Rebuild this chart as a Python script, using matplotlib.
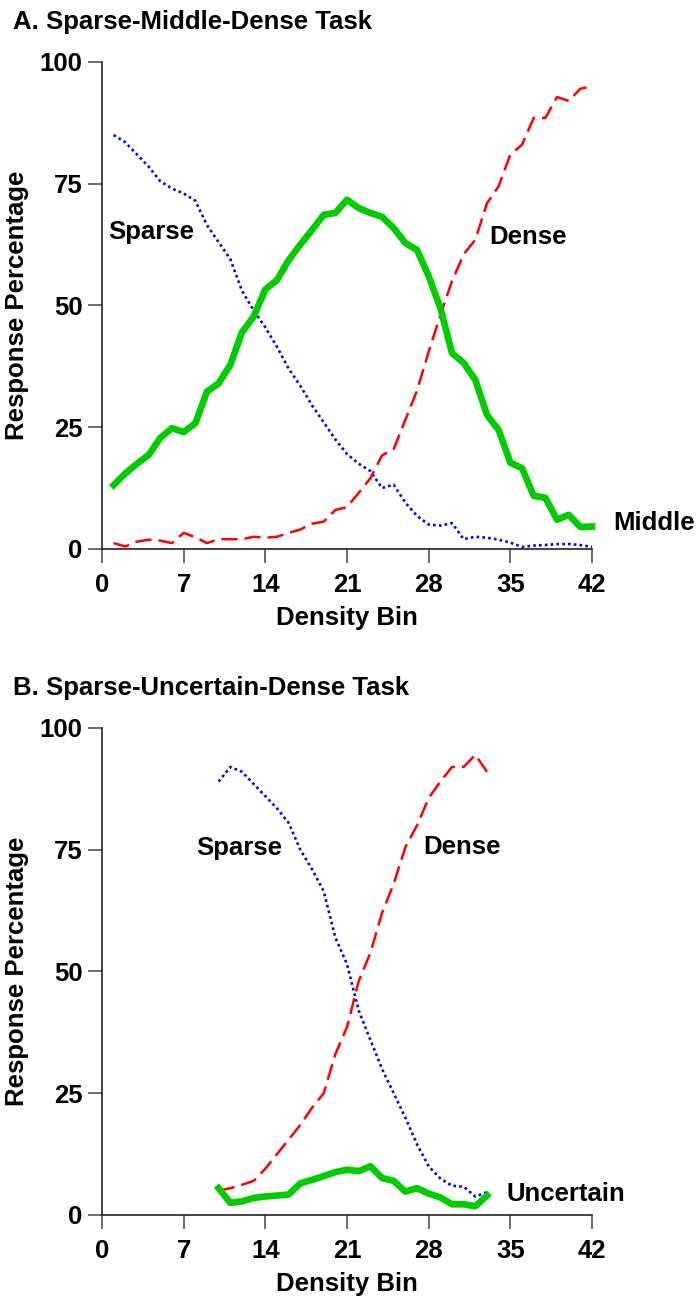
import matplotlib
matplotlib.use('Agg')
import matplotlib.pyplot as plt

# density bins
bins_a = list(range(1, 43))
bins_b = list(range(10, 34))

# panel A: sparse-middle-dense task (response %)
sparse_a = [85, 83.5, 81, 78.5, 75.5, 74, 73, 71.5, 66.5, 63, 59.5, 53, 49, 45.5,
            41.5, 37, 33.5, 29.5, 26, 22.5, 19.5, 17.5, 16, 12.5, 13.2, 9.5, 6.8,
            5, 4.8, 5.3, 2, 2.5, 2.3, 1.9, 1.3, 0.4, 0.7, 0.8, 1, 1, 0.8, 0.4]
middle_a = [13.1, 15.5, 17.5, 19.3, 22.8, 24.8, 24, 25.8, 32.3, 34, 37.8, 44.5,
            47.7, 53.3, 55.2, 59.3, 62.5, 65.5, 68.6, 69, 71.7, 70, 69, 68.2, 65.9,
            62.8, 61.4, 56, 49.5, 40.2, 38.2, 34.7, 27.5, 24.4, 17.7, 16.6, 10.9,
            10.5, 6, 7, 4.5, 4.6]
dense_a = [1.2, 0.5, 1.5, 1.9, 1.7, 1.2, 3.3, 2.4, 1.2, 2, 2, 2, 2.5, 2.3, 2.5,
           3.3, 4, 5.2, 5.6, 8, 8.6, 11.5, 14.5, 19.2, 20.5, 26.5, 32.5, 40.5, 48,
           55, 60.5, 63.5, 71, 74.5, 81, 83, 88.5, 88.5, 92.8, 92, 94.5, 95]

# panel B: sparse-uncertain-dense task (response %)
sparse_b = [89, 92, 91, 88.5, 86, 83.5, 80.5, 75, 71, 66.5, 57, 51.5, 42, 36, 30,
            25, 20, 14.5, 10, 7.5, 6, 5.8, 3.8, 4.7]
uncertain_b = [5.5, 2.5, 2.8, 3.5, 3.8, 4, 4.2, 6.5, 7.2, 8, 8.8, 9.3, 9, 10, 7.6,
               7, 4.8, 5.5, 4.4, 3.6, 2.2, 2.2, 1.8, 4]
dense_b = [5, 5.5, 6.2, 7, 9.5, 12.5, 15.5, 18.5, 22, 25, 33, 38.6, 48, 53.8, 62,
           68, 75.5, 80, 85.6, 89, 92, 92, 94.5, 91]

xticks = [0, 7, 14, 21, 28, 35, 42]
yticks = [0, 25, 50, 75, 100]

plt.rcParams['font.family'] = ['Liberation Sans', 'DejaVu Sans']
plt.rcParams['font.weight'] = 'bold'
FS = 18.5

fig = plt.figure(figsize=(6.97, 13.07), dpi=100)
ax_a = fig.add_axes([0.1463, 0.580, 0.7031, 0.3726])
ax_b = fig.add_axes([0.1463, 0.0704, 0.7031, 0.3726])


def style_axes(ax):
    ax.set_xlim(0, 42)
    ax.set_ylim(0, 100)
    ax.set_xticks(xticks)
    ax.set_yticks(yticks)
    for s in ['top', 'right']:
        ax.spines[s].set_visible(False)
    for s in ['left', 'bottom']:
        ax.spines[s].set_linewidth(1.2)
        ax.spines[s].set_color('#222222')
    ax.tick_params(axis='both', direction='out', length=10, width=1.1,
                   color='#444444', labelsize=FS)
    ax.tick_params(axis='y', pad=4)
    ax.tick_params(axis='x', pad=7)
    for lab in ax.get_xticklabels() + ax.get_yticklabels():
        lab.set_fontweight('bold')
    ax.set_xlabel('Density Bin', fontsize=FS, fontweight='bold', labelpad=7)
    ax.set_ylabel('Response Percentage', fontsize=FS, fontweight='bold', labelpad=8)


dot = (0, (1, 1.2))
dash = (0, (6.5, 2.8))

# panel A
ax_a.plot(bins_a, sparse_a, color='#0000ff', lw=1.9, ls=dot, clip_on=False)
ax_a.plot(bins_a, dense_a, color='#ff0000', lw=1.8, ls=dash, clip_on=False)
ax_a.plot(bins_a, middle_a, color='#00cc00', lw=4.8, solid_joinstyle='round',
          clip_on=False)
style_axes(ax_a)
ax_a.text(0.5, 65, 'Sparse', fontsize=FS, fontweight='bold', va='center')
ax_a.text(33.2, 64, 'Dense', fontsize=FS, fontweight='bold', va='center')
ax_a.text(43.8, 5.3, 'Middle', fontsize=FS, fontweight='bold', va='center')

# panel B
ax_b.plot(bins_b, sparse_b, color='#0000ff', lw=1.9, ls=dot, clip_on=False)
ax_b.plot(bins_b, dense_b, color='#ff0000', lw=1.8, ls=dash, clip_on=False)
ax_b.plot(bins_b, uncertain_b, color='#00cc00', lw=4.8, solid_joinstyle='round',
          clip_on=False)
style_axes(ax_b)
ax_b.text(8.1, 75.4, 'Sparse', fontsize=FS, fontweight='bold', va='center')
ax_b.text(27.5, 75.6, 'Dense', fontsize=FS, fontweight='bold', va='center')
ax_b.text(34.7, 4.3, 'Uncertain', fontsize=FS, fontweight='bold', va='center')

fig.text(13 / 697, 1 - 29 / 1307, 'A. Sparse-Middle-Dense Task', fontsize=FS,
         fontweight='bold', va='baseline', ha='left')
fig.text(13 / 697, 1 - 695 / 1307, 'B. Sparse-Uncertain-Dense Task', fontsize=FS,
         fontweight='bold', va='baseline', ha='left')

fig.savefig('out.png', dpi=100)
